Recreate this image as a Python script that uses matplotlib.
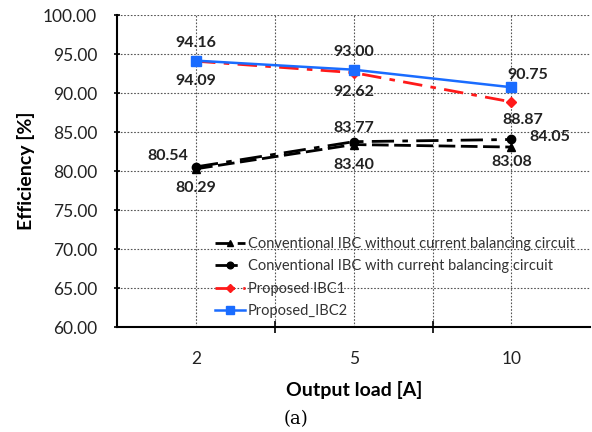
import numpy as np
import matplotlib.pyplot as plt

plt.rcParams['font.family'] = ['Lato', 'DejaVu Sans']

# ========= Data =========
loads = ["2", "5", "10"]
conv_without_cb = [80.29, 83.40, 83.08]
conv_with_cb = [80.54, 83.77, 84.05]
proposed_ibc1 = [94.09, 92.62, 88.87]
proposed_ibc2 = [94.16, 93.00, 90.75]
y_ticks = [60, 65, 70, 75, 80, 85, 90, 95, 100]

# label offsets (points) for each data label
offs_without = [(0, -14), (0, -15), (0, -11)]
offs_with = [(-20, 8), (0, 10), (28, 2)]
offs_ibc1 = [(0, -14), (0, -14), (8, -13)]
offs_ibc2 = [(0, 13), (0, 13), (12, 9)]

x = np.arange(len(loads))

fig = plt.figure(figsize=(5.92, 4.32), dpi=100)
ax = fig.add_axes([0.198, 0.243, 0.799, 0.722])

ax.plot(x, conv_without_cb, color="black", linestyle=(0, (6, 2)), linewidth=2,
        marker="^", markersize=6, label="Conventional IBC without current balancing circuit")
ax.plot(x, conv_with_cb, color="black", linestyle=(0, (8, 3, 2, 3)), linewidth=2,
        marker="o", markersize=6, label="Conventional IBC with current balancing circuit")
ax.plot(x, proposed_ibc1, color="#ff1a1a", linestyle=(0, (7, 3, 2, 3)), linewidth=2,
        marker="D", markersize=5, label="Proposed IBC1")
ax.plot(x, proposed_ibc2, color="#1a6cff", linestyle="-", linewidth=1.8,
        marker="s", markersize=7, label="Proposed_IBC2")

for series, offs in [(conv_without_cb, offs_without), (conv_with_cb, offs_with),
                     (proposed_ibc1, offs_ibc1), (proposed_ibc2, offs_ibc2)]:
    for xi, yi, off in zip(x, series, offs):
        ax.annotate(f"{yi:.2f}", (xi, yi), xytext=off, textcoords="offset points",
                    ha="center", va="center", fontsize=11.5, fontweight="bold",
                    color="#222222")

ax.set_xlim(-0.5, 2.5)
ax.set_ylim(60, 100)
ax.set_yticks(y_ticks)
ax.set_yticklabels([f"{v:.2f}" for v in y_ticks], fontsize=12.5, color="#222222")
ax.set_xticks(x)
ax.set_xticklabels(loads, fontsize=12.5, color="#222222")
ax.set_xticks([0.5, 1.5], minor=True)
ax.tick_params(axis="x", which="major", length=0, pad=17)
ax.tick_params(axis="x", which="minor", length=8, direction="inout", width=1.2)
ax.tick_params(axis="y", length=5, direction="inout", width=1.2, pad=12)

for v in y_ticks[1:]:
    ax.axhline(v, color="#555555", linestyle=(0, (1.5, 1.5)), linewidth=0.8, zorder=0)
for v in [0, 0.5, 1, 1.5, 2]:
    ax.axvline(v, color="#555555", linestyle=(0, (1.5, 1.5)), linewidth=0.8, zorder=0)

for side in ["top", "right"]:
    ax.spines[side].set_visible(False)
ax.spines["left"].set_linewidth(1.5)
ax.spines["bottom"].set_linewidth(1.5)

ax.set_ylabel("Efficiency [%]", fontsize=14, fontweight="bold", labelpad=6)
ax.set_xlabel("Output load [A]", fontsize=14, fontweight="bold", labelpad=10)
fig.text(0.5, 0.03, "(a)", fontsize=13, family="DejaVu Serif", ha="center", va="center")

leg = ax.legend(loc="lower right", bbox_to_anchor=(0.985, 0.0), frameon=False,
                fontsize=10.5, handlelength=2.0, handletextpad=0.2, labelspacing=0.58,
                borderaxespad=0.2, markerscale=0.8)
for t in leg.get_texts():
    t.set_color("#333333")

fig.savefig("out.png", dpi=100)
